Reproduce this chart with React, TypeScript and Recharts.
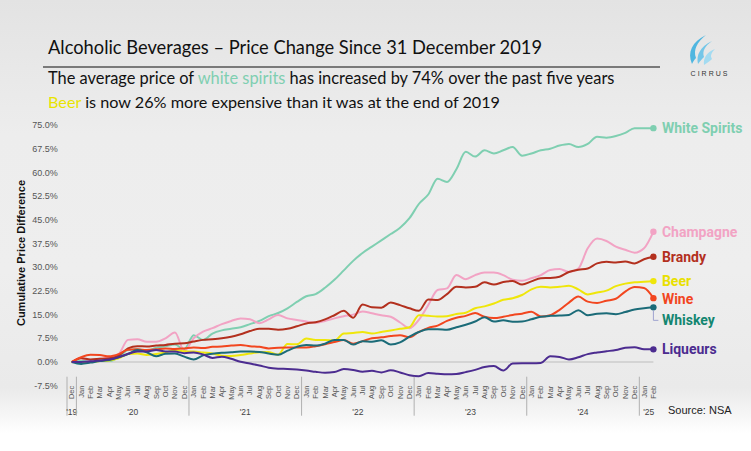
import { LineChart, Line, XAxis, YAxis, ReferenceLine } from 'recharts';

// month labels, Dec 2019 .. Feb 2025
const monthLabels = [
  'Dec',
  'Jan', 'Feb', 'Mar', 'Apr', 'May', 'Jun', 'Jul', 'Aug', 'Sep', 'Oct', 'Nov', 'Dec',
  'Jan', 'Feb', 'Mar', 'Apr', 'May', 'Jun', 'Jul', 'Aug', 'Sep', 'Oct', 'Nov', 'Dec',
  'Jan', 'Feb', 'Mar', 'Apr', 'May', 'Jun', 'Jul', 'Aug', 'Sep', 'Oct', 'Nov', 'Dec',
  'Jan', 'Feb', 'Mar', 'Apr', 'May', 'Jun', 'Jul', 'Aug', 'Sep', 'Oct', 'Nov', 'Dec',
  'Jan', 'Feb', 'Mar', 'Apr', 'May', 'Jun', 'Jul', 'Aug', 'Sep', 'Oct', 'Nov', 'Dec',
  'Jan', 'Feb',
];
const yearLabels = ["'19", "'20", "'21", "'22", "'23", "'24", "'25"];
const yTicks = [-7.5, 0, 7.5, 15, 22.5, 30, 37.5, 45, 52.5, 60, 67.5, 75];

const whiteSpirits = [
  0, 0.3, 0.2, 0.5, 0.3, 1.5, 3.8, 4, 3.5, 4.5,
  5, 5.5, 4, 8.5, 7, 9, 10, 10.5, 11, 12,
  13, 14.5, 15.5, 17, 19, 20.8, 21.5, 23.5, 26, 29,
  32, 34.5, 36.5, 38.5, 40.5, 42.5, 45.5, 50, 53, 58,
  57, 61, 66.5, 65, 67, 66, 67, 68, 65.3, 66,
  67, 67.5, 68.5, 69, 68, 69, 71.3, 71, 71.5, 72.5,
  74, 74, 74,
];
const champagne = [
  0, 1.3, 0.5, 1, 1.5, 2.5, 7, 7.2, 6.4, 6.4,
  7.5, 9.3, 3.5, 7.5, 9.6, 10.7, 12, 13, 13.8, 13.5,
  12.3, 13.5, 14.9, 13.8, 13.3, 12.8, 12.4, 13, 13.8, 14.5,
  15, 16, 15.4, 14.8, 14.3, 12.5, 10.7, 13.3, 18, 22.8,
  23.3, 27.5, 26.2, 27.5, 28.3, 28.3, 27.5, 26, 25.7, 26.5,
  27.5, 29.1, 29.4, 28.5, 29.6, 36, 39.1, 38.3, 36.5, 35.5,
  34.6, 36, 41.2,
];
const brandy = [
  0, 1.2, 0.8, 1, 1.2, 2, 4.3, 5, 4.9, 5.2,
  5.4, 5.8, 5.9, 6.5, 7, 7.2, 7.5, 8, 8.8, 9.8,
  10.5, 10.5, 10.2, 10.5, 11.3, 12.2, 12.6, 13.5, 14.8, 16.2,
  14, 18.2, 17.3, 17.2, 18.8, 18, 17, 16.2, 19.8, 19.6,
  21.5, 23.8, 23.6, 23.8, 25.2, 24.5, 25.3, 25.6, 24.5, 25.5,
  26.5, 26.6, 27, 28.5, 29.2, 29.6, 31.2, 31.7, 31.5, 31.8,
  31.2, 32.5, 33.3,
];
const beer = [
  0, 0, 0, 0.3, 0.5, 1.2, 2.5, 2.7, 2.2, 2.5,
  3, 3.8, 3.4, 3.3, 3, 2.7, 2, 1.9, 2.2, 2.7,
  3.1, 3.2, 2.3, 5.7, 5.6, 7.4, 7, 7, 6.8, 9,
  9.2, 9.5, 9, 9.5, 10, 10.5, 11, 14.8, 14.6, 14.4,
  14.5, 15.2, 15.6, 17, 17.6, 18.5, 19.7, 20.2, 21.2, 23,
  23.8, 23.6, 23.8, 24.1, 23, 21.4, 22, 22.6, 24, 24.8,
  25.2, 25.4, 25.6,
];
const wine = [
  0, 1.5, 2.3, 2.2, 1.8, 2.5, 3.9, 4, 3.8, 4,
  4.3, 4.1, 4.3, 4.6, 4.4, 4.8, 4.9, 5.2, 5.4, 5,
  4.8, 4.3, 4.5, 4.6, 4.6, 4.6, 5, 5.6, 6.3, 7,
  5.8, 6.6, 7.5, 7.8, 8.2, 8.5, 7.8, 9.5, 10.8, 11.5,
  13, 14, 14.6, 15.5, 14.3, 13.9, 14.3, 14.9, 15.3, 15.9,
  14.4, 14.8, 16.5, 18.8, 20.7, 19.1, 18.7, 19.4, 20, 22.3,
  23.7, 23.4, 20.2,
];
const whiskey = [
  0, -0.6, -0.2, 0.3, 0.6, 1.5, 2.5, 3.8, 3.1, 1.8,
  2.6, 2.7, 1.7, 0.8, 2.1, 2.6, 2.9, 3.1, 3.3, 3.3,
  3.2, 2.7, 2.3, 3.6, 4.8, 5.4, 5.2, 5.8, 7, 7,
  5.5, 6.6, 6.4, 6.9, 5.5, 6.2, 8, 9.5, 10.4, 10.4,
  10.2, 11, 11.8, 12.8, 14.2, 12.8, 13.2, 12.7, 12.8, 13.5,
  14.3, 14.6, 14.7, 14.9, 16.4, 14.8, 15.3, 15.4, 15.1, 15.8,
  16.6, 17, 17.3,
];
const liqueurs = [
  0, 0, 0.2, 0.5, 0.8, 1.5, 2.6, 3.3, 3.3, 3.8,
  3.3, 3.3, 2.8, 3, 2.4, 1.3, 1.7, 1, 0.1, -0.5,
  -1.1, -1.8, -2.1, -2.2, -2.4, -2.7, -3.1, -3.4, -3.2, -2.2,
  -2.5, -3.1, -2.8, -3.3, -2.6, -3.3, -4.2, -4.5, -3.5, -3.7,
  -3.9, -3.8, -3.2, -2.5, -1.6, -1.3, -2.7, -0.5, -0.4, -0.4,
  -0.3, 1.8, 1.6, 0.8, 1.5, 2.5, 3, 3.4, 3.8, 4.5,
  4.7, 4, 4,
];

const series = [
  { key: 'whiteSpirits', name: 'White Spirits', values: whiteSpirits, color: '#7fcfb1', text: '#7fcfb1', labelDy: 0 },
  { key: 'champagne', name: 'Champagne', values: champagne, color: '#f2a3c4', text: '#f2a3c4', labelDy: 0 },
  { key: 'brandy', name: 'Brandy', values: brandy, color: '#b3301e', text: '#b3301e', labelDy: 0 },
  { key: 'beer', name: 'Beer', values: beer, color: '#efe60a', text: '#e9e000', labelDy: 0 },
  { key: 'wine', name: 'Wine', values: wine, color: '#f2461f', text: '#f2461f', labelDy: 1 },
  { key: 'whiskey', name: 'Whiskey', values: whiskey, color: '#1b6b78', text: '#138670', labelDy: 13 },
  { key: 'liqueurs', name: 'Liqueurs', values: liqueurs, color: '#4c2c90', text: '#4c2c90', labelDy: 0 },
];

const W = 751;
const H = 451;
const PLOT_LEFT = 71.7;
const PLOT_RIGHT = 653.4;
const STEP = (PLOT_RIGHT - PLOT_LEFT) / (monthLabels.length - 1);
const LAST = monthLabels.length - 1;

const chartData = monthLabels.map((m, i) => {
  const row: any = { key: `${i}-${m}` };
  series.forEach((s) => (row[s.key] = s.values[i]));
  return row;
});

// group start index + size for each year
const groups: { start: number; size: number }[] = [];
monthLabels.forEach((m, i) => {
  if (i === 0 || m === 'Jan') groups.push({ start: i, size: 1 });
  else groups[groups.length - 1].size += 1;
});

function MonthTick(props: any) {
  const { x, y, payload } = props;
  const i = parseInt(String(payload.value).split('-')[0], 10);
  const gi = groups.findIndex((g) => g.start === i);
  return (
    <g>
      <text
        x={0}
        y={0}
        transform={`translate(${x + 2.5},${y}) rotate(-90)`}
        textAnchor="end"
        fontSize={7.5}
        fill="#555"
        fontFamily="Liberation Sans, Arial, sans-serif"
      >
        {monthLabels[i]}
      </text>
      {gi >= 0 && (
        <g>
          <line x1={x - STEP / 2} x2={x - STEP / 2} y1={y - 9} y2={y + 30} stroke="#b0b0b0" strokeWidth={1} />
          <text
            x={x + ((groups[gi].size - 1) * STEP) / 2}
            y={y + 29}
            textAnchor="middle"
            fontSize={8.5}
            fill="#444"
            fontFamily="Liberation Sans, Arial, sans-serif"
          >
            {yearLabels[gi]}
          </text>
        </g>
      )}
    </g>
  );
}

function makeDot(s: any) {
  return (p: any) => {
    const { cx, cy, index } = p;
    if (index !== LAST) return <g key={`d-${s.key}-${index}`} />;
    return (
      <g key={`d-${s.key}-${index}`}>
        <circle cx={cx} cy={cy} r={3.2} fill={s.color} stroke="none" />
        {s.key === 'whiskey' && (
          <polyline
            points={`${cx},${cy + 3} ${cx},${cy + s.labelDy} ${cx + 5},${cy + s.labelDy}`}
            fill="none"
            stroke="#9ea3cf"
            strokeWidth={1}
          />
        )}
        <text
          x={cx + 8.5}
          y={cy + s.labelDy}
          dy="0.35em"
          fontSize={14}
          fontWeight={700}
          fill={s.text}
          fontFamily="Roboto, sans-serif"
        >
          {s.name}
        </text>
      </g>
    );
  };
}

export default function App() {
  return (
    <div
      style={{
        position: 'absolute',
        left: 0,
        top: 0,
        width: W,
        height: H,
        overflow: 'hidden',
        background:
          'linear-gradient(180deg, #e3e3e3 0%, #ededed 30%, #eeeeee 60%, #eaeaea 86%, #f6f6f6 92%, #ffffff 96%)',
        fontFamily: 'Lato, sans-serif',
      }}
    >
      <div style={{ position: 'absolute', left: 48, top: 36, fontSize: 18.3, color: '#111', whiteSpace: 'nowrap' }}>
        Alcoholic Beverages – Price Change Since 31 December 2019
      </div>
      <div style={{ position: 'absolute', left: 43, top: 66, width: 617, height: 1.5, background: '#7a7a7a' }} />
      <div style={{ position: 'absolute', left: 48, top: 68, fontSize: 16.4, color: '#111', whiteSpace: 'nowrap' }}>
        The average price of <span style={{ color: '#7fcfb1' }}>white spirits</span> has increased by 74% over the past five years
      </div>
      <div style={{ position: 'absolute', left: 48, top: 92, fontSize: 16.2, color: '#111', whiteSpace: 'nowrap' }}>
        <span style={{ color: '#e9e400' }}>Beer</span> is now 26% more expensive than it was at the end of 2019
      </div>

      {/* logo */}
      <svg style={{ position: 'absolute', left: 680, top: 34 }} width={60} height={44}>
        <path d="M26 1 C12 8 7 18 12 30 C13 28 14 26 16 24 C13 16 17 8 26 1 Z" fill="#4fb6e0" />
        <path d="M32 7 C20 13 16 21 18 30 C20 27 22 25 24 23 C22 17 25 12 32 7 Z" fill="#74c6e8" />
        <path d="M35 15 C27 18 23 24 24 31 C27 29 30 27 32 25 C30 22 31 19 35 15 Z" fill="#a3dbf1" />
        <text x={30} y={42} textAnchor="middle" fontSize={7} letterSpacing={2} fill="#333" fontFamily="Liberation Sans, Arial, sans-serif">
          CIRRUS
        </text>
      </svg>

      <div
        style={{
          position: 'absolute',
          left: 21,
          top: 253,
          transform: 'translate(-50%, -50%) rotate(-90deg)',
          fontSize: 11,
          fontWeight: 700,
          color: '#111',
          whiteSpace: 'nowrap',
          fontFamily: 'Liberation Sans, Arial, sans-serif',
        }}
      >
        Cumulative Price Difference
      </div>

      <div
        style={{
          position: 'absolute',
          left: 668,
          top: 404,
          fontSize: 11,
          color: '#222',
          whiteSpace: 'nowrap',
          fontFamily: 'Liberation Sans, Arial, sans-serif',
        }}
      >
        Source: NSA
      </div>

      <div style={{ position: 'absolute', left: 0, top: 0 }}>
        <LineChart width={W} height={H} data={chartData} margin={{ top: 125, right: W - PLOT_RIGHT, left: PLOT_LEFT - 60, bottom: 25.3 }}>
          <XAxis
            dataKey="key"
            interval={0}
            tickLine={false}
            axisLine={false}
            tickSize={0}
            tickMargin={0}
            height={40}
            tick={(p: any) => <MonthTick {...p} />}
          />
          <YAxis
            domain={[-7.5, 75]}
            ticks={yTicks}
            width={60}
            axisLine={false}
            tickLine={false}
            tickSize={0}
            tickMargin={14}
            tickFormatter={(v: number) => `${v.toFixed(1)}%`}
            tick={{ fontSize: 9, fill: '#555', fontFamily: 'Liberation Sans, Arial, sans-serif' }}
          />
          <ReferenceLine y={0} stroke="#bdbdbd" strokeWidth={1} />
          {series.map((s) => (
            <Line
              key={s.key}
              type="monotone"
              dataKey={s.key}
              stroke={s.color}
              strokeWidth={2}
              dot={makeDot(s)}
              activeDot={false}
              isAnimationActive={false}
            />
          ))}
        </LineChart>
      </div>
    </div>
  );
}
